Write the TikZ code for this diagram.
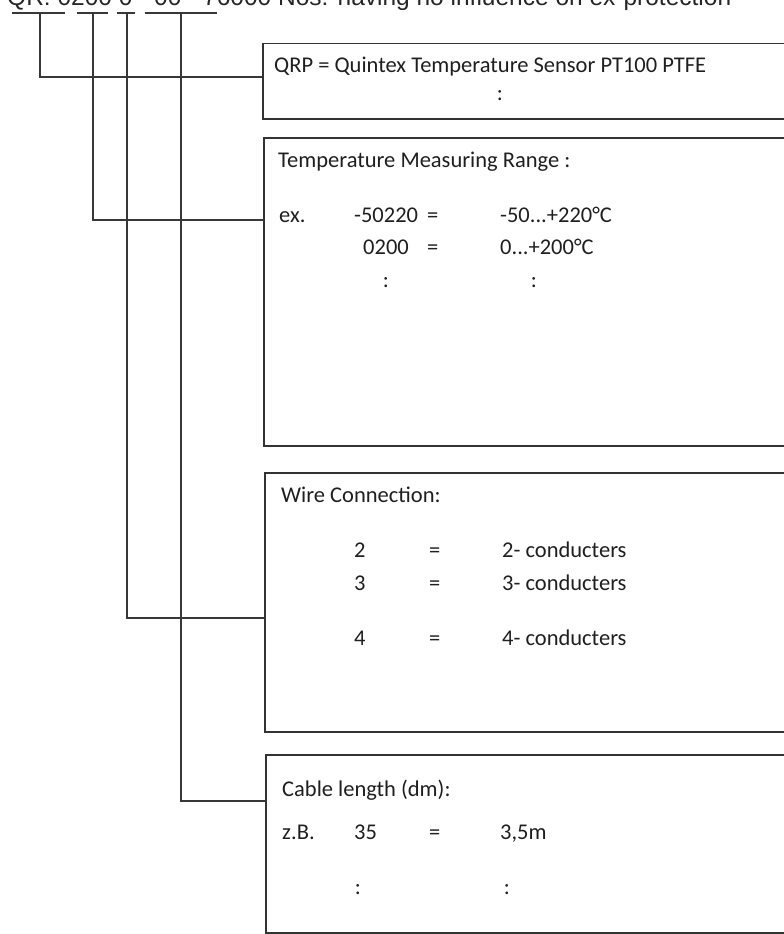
\documentclass[tikz,border=0pt]{standalone}
\usepackage{fontspec}
\setmainfont{Carlito}
\newfontfamily\headfont{Liberation Sans}
\usetikzlibrary{calc}

\begin{document}
\begin{tikzpicture}[x=1pt,y=-1pt,
    box/.style={draw=black!80,line width=1.5pt,rectangle,anchor=north west,
        inner sep=0pt,minimum width=600pt},
    link/.style={draw=black!78,line width=1.5pt},
    txt/.style={anchor=base west,inner sep=0pt,text=black!88,
        font=\fontsize{22.5}{27}\selectfont},
    dots/.style={txt,anchor=base}]
    \useasboundingbox (0,0) rectangle (784,934);
    \clip (0,0) rectangle (784,934);

    % order code line (cut at the top)
    \node[anchor=base west,inner sep=0pt,text=black!85,font=\headfont\fontsize{24.5}{29}\selectfont]
        (code) at (7,6) {QR: 0200 0 - 00 - 76000 Nos: having no influence on ex-protection};
    \draw[link] (12,13) -- (65,13);
    \draw[link] (77,13) -- (108,13);
    \draw[link] (117,13) -- (135,13);
    \draw[link] (145,13) -- (217,13);
    \coordinate (u1) at (40,13);
    \coordinate (u2) at (93,13);
    \coordinate (u3) at (127,13);
    \coordinate (u4) at (181,13);

    % boxes
    \node[box,minimum height=75pt] (qrp) at (262,43) {};
    \node[box,minimum height=308pt] (range) at (263,137) {};
    \node[box,minimum height=259pt] (wire) at (264,472) {};
    \node[box,minimum height=178pt] (cable) at (265,754) {};

    % leader lines
    \draw[link] (u1) |- ($(qrp.north west)+(0,34)$);
    \draw[link] (u2) |- ($(range.north west)+(0,83)$);
    \draw[link] (u3) |- ($(wire.north west)+(0,146)$);
    \draw[link] (u4) |- ($(cable.north west)+(0,47)$);

    % sensor type
    \node[txt] (qrptext) at (274,72) {QRP = Quintex Temperature Sensor PT100 PTFE};
    \node[dots] (qrpdots) at (500,100) {:};

    % measuring range
    \node[txt] (rangetitle) at (278,167) {Temperature Measuring Range :};
    \node[txt] (ex) at (279,222) {ex.};
    \node[txt] (r1code) at (354,222) {-50220};
    \node[txt] (r1eq) at (427,222) {=};
    \node[txt] (r1val) at (500,222) {-50...+220°C};
    \node[txt] (r2code) at (363,254) {0200};
    \node[txt] (r2eq) at (427,254) {=};
    \node[txt] (r2val) at (500,254) {0...+200°C};
    \node[dots] (rdots1) at (386,287) {:};
    \node[dots] (rdots2) at (534,287) {:};

    % wire connection
    \node[txt] (wiretitle) at (281,502) {Wire Connection:};
    \foreach \n/\y in {2/557,3/590,4/645} {
        \node[txt] (w\n code) at (354,\y) {\n};
        \node[txt] (w\n eq) at (429,\y) {=};
        \node[txt] (w\n val) at (502,\y) {\n- conducters};
    }

    % cable length
    \node[txt] (cabletitle) at (282,796) {Cable length (dm):};
    \node[txt] (zb) at (282,839) {z.B.};
    \node[txt] (c1code) at (354,839) {35};
    \node[txt] (c1eq) at (429,839) {=};
    \node[txt] (c1val) at (500,839) {3,5m};
    \node[dots] (cdots1) at (358,894) {:};
    \node[dots] (cdots2) at (507,894) {:};
\end{tikzpicture}
\end{document}
